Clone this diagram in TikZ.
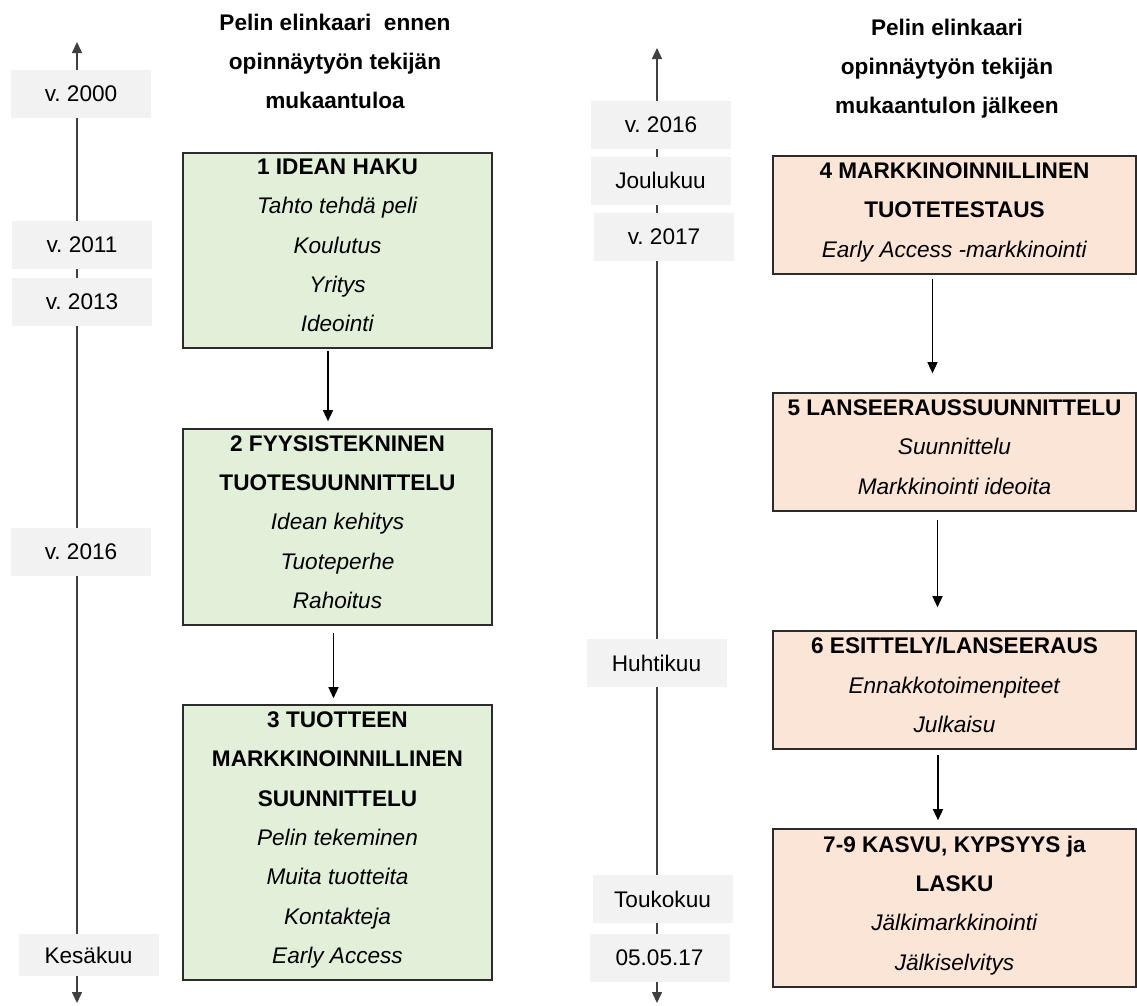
\documentclass[tikz,border=0pt]{standalone}
\usepackage{fontspec}
\setmainfont{Liberation Sans}
\usetikzlibrary{arrows.meta}
\definecolor{datebg}{HTML}{F2F2F2}
\definecolor{greenbox}{HTML}{E2F0D9}
\definecolor{orangebox}{HTML}{FBE5D6}
\definecolor{edgegray}{HTML}{2B2B2B}
\definecolor{axisgray}{HTML}{404040}
\newcommand{\diagfont}{\fontsize{22.6}{39.3}\selectfont}
\newcommand{\lowgap}{\rule[-10pt]{0pt}{0pt}}
\frenchspacing

\begin{document}
\begin{tikzpicture}[x=1pt, y=-1pt, >={Stealth[inset=0pt,length=11pt,width=10pt]},
  every node/.style={font=\diagfont, align=center, inner sep=0pt},
  date/.style={fill=datebg, minimum width=140pt, minimum height=48pt},
  phase/.style={draw=edgegray, line width=1.6pt, minimum width=309pt},
  early/.style={phase, fill=greenbox},
  late/.style={phase, fill=orangebox, minimum width=363pt},
  flow/.style={->, line width=1.3pt}]
  \useasboundingbox[fill=white] (0,0) rectangle (1137,1005);

  \coordinate (Ltop) at (77,42);
  \coordinate (Lbot) at (77,1003);
  \coordinate (Rtop) at (657,48);
  \coordinate (Rbot) at (657,1003);
  \draw[<->, axisgray, line width=1.5pt] (Lbot) -- (Ltop);
  \draw[<->, axisgray, line width=1.5pt] (Rbot) -- (Rtop);

  \node[font=\diagfont\bfseries, anchor=north] (titleL) at (335,13.5) {Pelin elinkaari\ \ ennen\\opinnäytyön tekijän\\mukaantuloa};
  \node[font=\diagfont\bfseries, anchor=north] (titleR) at (947,18.5) {Pelin elinkaari\\opinnäytyön tekijän\\mukaantulon jälkeen};

  \node[date] (d2000) at (81,94) {v. 2000};
  \node[date] (d2011) at (82,244.5) {v. 2011};
  \node[date] (d2013) at (82,302) {v. 2013};
  \node[date] (d2016) at (81,552) {v. 2016};
  \node[date, minimum height=42pt] (dkesa) at (88.5,955) {Kesäkuu};

  \node[date] (r2016) at (661,125) {v. 2016};
  \node[date] (rjoulu) at (660.5,180.5) {Joulukuu};
  \node[date] (r2017) at (664,237) {v. 2017};
  \node[date] (rhuhti) at (656.5,663) {Huhtikuu};
  \node[date] (rtouko) at (662.5,899) {Toukokuu};
  \node[date] (rday) at (659.5,958) {05.05.17};

  \node[early, minimum height=195pt] (phase1) at (337.5,250.5) {\textbf{1 IDEAN HAKU}\\\textit{Tahto tehdä peli}\\\textit{Koulutus}\\\textit{Yritys}\\\textit{Ideointi}\lowgap};
  \node[early, minimum height=196pt] (phase2) at (337.5,527) {\textbf{2 FYYSISTEKNINEN}\\\textbf{TUOTESUUNNITTELU}\\\textit{Idean kehitys}\\\textit{Tuoteperhe}\\\textit{Rahoitus}\lowgap};
  \node[early, minimum height=275pt] (phase3) at (337.5,842.5) {\textbf{3 TUOTTEEN}\\\textbf{MARKKINOINNILLINEN}\\\textbf{SUUNNITTELU}\\\textit{Pelin tekeminen}\\\textit{Muita tuotteita}\\\textit{Kontakteja}\\\textit{Early Access}\lowgap};

  \node[late, minimum height=118pt] (phase4) at (954.5,215) {\textbf{4 MARKKINOINNILLINEN}\\\textbf{TUOTETESTAUS}\\\textit{Early Access -markkinointi}\lowgap};
  \node[late, minimum height=118pt] (phase5) at (954.5,452) {\textbf{5 LANSEERAUSSUUNNITTELU}\\\textit{Suunnittelu}\\\textit{Markkinointi ideoita}\lowgap};
  \node[late, minimum height=118pt] (phase6) at (954.5,690) {\textbf{6 ESITTELY/LANSEERAUS}\\\textit{Ennakkotoimenpiteet}\\\textit{Julkaisu}\lowgap};
  \node[late, minimum height=158pt] (phase7) at (954.5,908) {\textbf{7-9 KASVU, KYPSYYS ja}\\\textbf{LASKU}\\\textit{Jälkimarkkinointi}\\\textit{Jälkiselvitys}\lowgap};

  \draw[flow, shorten <=2pt, shorten >=7pt] ([xshift=-9.5pt]phase1.south) -- ([xshift=-9.5pt]phase2.north);
  \draw[flow, shorten <=7pt, shorten >=6pt] ([xshift=-4pt]phase2.south) -- ([xshift=-4pt]phase3.north);
  \draw[flow, shorten <=4pt, shorten >=19pt] ([xshift=-22pt]phase4.south) -- ([xshift=-22pt]phase5.north);
  \draw[flow, shorten <=8pt, shorten >=23pt] ([xshift=-17pt]phase5.south) -- ([xshift=-17pt]phase6.north);
  \draw[flow, shorten <=5pt, shorten >=8pt] ([xshift=-16.5pt]phase6.south) -- ([xshift=-16.5pt]phase7.north);
\end{tikzpicture}
\end{document}
